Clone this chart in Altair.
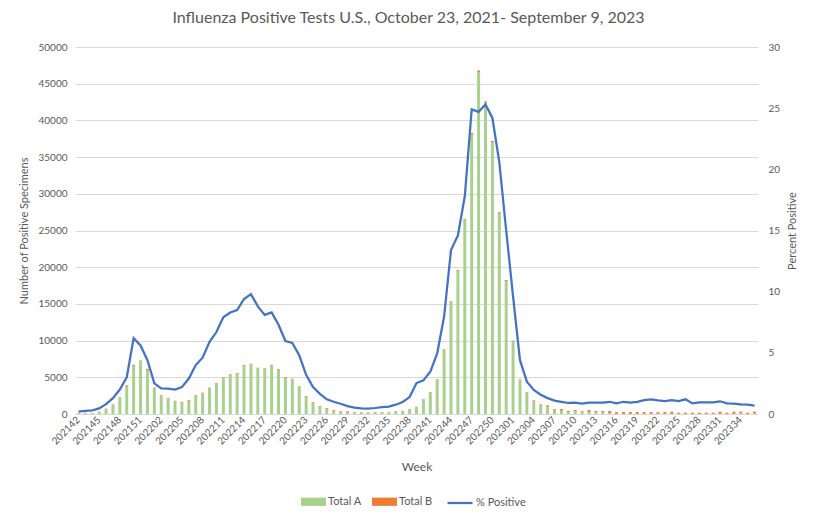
import altair as alt
import pandas as pd

weeks = ([f"2021{w}" for w in range(42, 53)]
         + [f"2022{w:02d}" for w in range(1, 53)]
         + [f"2023{w:02d}" for w in range(1, 37)])

total_a = [60, 90, 70, 290, 680, 1200, 2250, 3750, 6550, 7250,
           6000, 3550, 2550, 2100, 1700, 1550, 1800, 2550, 2800, 3550,
           4100, 4950, 5300, 5450, 6600, 6850, 6250, 6100, 6600, 6000,
           4900, 4700, 3780, 2350, 1500, 1000, 700, 450, 340, 330,
           250, 230, 230, 220, 250, 250, 400, 440, 670, 990,
           2000, 2900, 4650, 8700, 15200, 19450, 26500, 38100, 46600, 42450,
           37050, 27350, 18100, 9900, 4600, 2850, 1700, 1150, 1000, 450,
           450, 270, 400, 220, 270, 230, 230, 140, 40, 20,
           20, 20, 20, 20, 30, 20, 20, 10, 10, 10,
           10, 10, 10, 20, 10, 20, 100, 10, 100]

total_b = [40, 70, 50, 40, 50, 100, 60, 150, 150, 50,
           150, 50, 50, 100, 100, 100, 100, 50, 100, 50,
           100, 50, 100, 100, 100, 30, 50, 100, 100, 100,
           100, 100, 20, 100, 100, 100, 100, 100, 70, 80,
           20, 40, 40, 50, 20, 20, 10, 10, 10, 10,
           50, 80, 80, 100, 150, 150, 100, 200, 200, 150,
           150, 150, 150, 100, 100, 100, 150, 150, 180, 200,
           230, 140, 140, 140, 270, 180, 180, 270, 230, 250,
           250, 250, 250, 250, 220, 250, 300, 170, 170, 170,
           170, 170, 170, 300, 170, 300, 220, 170, 220]

pct_positive = [0.2, 0.25, 0.3, 0.46, 0.8, 1.3, 2.0, 3.0, 6.2, 5.6,
                4.4, 2.5, 2.1, 2.07, 2.0, 2.2, 2.9, 4.0, 4.6, 5.9,
                6.7, 7.9, 8.3, 8.5, 9.4, 9.8, 8.8, 8.1, 8.3, 7.3,
                5.97, 5.8, 4.8, 3.2, 2.2, 1.65, 1.2, 1.0, 0.84, 0.65,
                0.52, 0.46, 0.44, 0.49, 0.57, 0.6, 0.76, 0.98, 1.38, 2.53,
                2.75, 3.45, 4.96, 7.96, 13.4, 14.6, 17.8, 24.9, 24.7, 25.3,
                24.2, 20.6, 15.0, 9.6, 4.4, 2.64, 1.96, 1.58, 1.3, 1.09,
                1.0, 0.9, 0.93, 0.84, 0.93, 0.93, 0.93, 1.0, 0.87, 1.0,
                0.93, 1.0, 1.14, 1.2, 1.12, 1.06, 1.14, 1.06, 1.2, 0.87,
                0.95, 0.95, 0.95, 1.04, 0.87, 0.84, 0.79, 0.76, 0.68]

left_ticks = list(range(0, 50001, 5000))
right_ticks = list(range(0, 31, 5))
shown_weeks = [w for i, w in enumerate(weeks) if i % 3 == 0]

FONT = "Lato"
GRAY = "#595959"
GRID = "#D9D9D9"

n = len(weeks)
bars_df = pd.DataFrame({
    "week": weeks * 2,
    "series": ["Total A"] * n + ["Total B"] * n,
    "value": total_a + total_b,
    "order": [0] * n + [1] * n,
})
line_df = pd.DataFrame({"week": weeks, "pct": pct_positive, "series": ["% Positive"] * n})

x_enc = alt.X(
    "week:N", sort=weeks,
    scale=alt.Scale(paddingInner=0, paddingOuter=0),
    axis=alt.Axis(
        values=shown_weeks, labelAngle=-45, labelAlign="right", labelBaseline="middle",
        labelFont=FONT, labelFontSize=10, labelColor=GRAY, labelPadding=4,
        ticks=False, domainColor=GRID, domainWidth=1, grid=False,
        title="Week", titleFont=FONT, titleFontSize=12, titleFontWeight="normal",
        titleColor=GRAY, titlePadding=15,
    ),
)

bars = alt.Chart(bars_df).mark_bar(size=3).encode(
    x=x_enc,
    y=alt.Y(
        "value:Q", stack="zero",
        scale=alt.Scale(domain=[0, 50000], nice=False),
        axis=alt.Axis(
            values=left_ticks, format="d", grid=True, gridColor=GRID, domain=False, ticks=False,
            labelFont=FONT, labelFontSize=10, labelColor=GRAY, labelPadding=8,
            title="Number of Positive Specimens", titleFont=FONT, titleFontSize=11,
            titleFontWeight="normal", titleColor=GRAY, titlePadding=8,
        ),
    ),
    color=alt.Color(
        "series:N",
        scale=alt.Scale(domain=["Total A", "Total B"], range=["#A9D18E", "#ED7D31"]),
        legend=alt.Legend(
            orient="none", legendX=226, legendY=442, direction="horizontal", title=None,
            symbolType="M-1,-0.33H1V0.33H-1Z", symbolSize=625, symbolStrokeWidth=0,
            labelFont=FONT, labelFontSize=11, labelColor=GRAY, columnPadding=10,
            padding=0, labelOffset=2,
        ),
    ),
    order=alt.Order("order:Q", sort="ascending"),
)

line = alt.Chart(line_df).mark_line(strokeWidth=2.25).encode(
    x=alt.X("week:N", sort=weeks),
    y=alt.Y(
        "pct:Q",
        scale=alt.Scale(domain=[0, 30], nice=False),
        axis=alt.Axis(
            orient="right", values=right_ticks, grid=False, domain=False, ticks=False,
            labelFont=FONT, labelFontSize=10, labelColor=GRAY, labelPadding=10,
            title="Percent Positive", titleFont=FONT, titleFontSize=11,
            titleFontWeight="normal", titleColor=GRAY, titleAngle=-90, titlePadding=18,
        ),
    ),
    stroke=alt.Stroke(
        "series:N",
        scale=alt.Scale(domain=["% Positive"], range=["#4472C4"]),
        legend=alt.Legend(
            orient="none", legendX=371, legendY=442, direction="horizontal", title=None,
            symbolType="stroke", symbolSize=625, symbolStrokeWidth=2.25,
            labelFont=FONT, labelFontSize=11, labelColor=GRAY, padding=0, labelOffset=2,
        ),
    ),
)

chart = alt.layer(bars, line).resolve_scale(y="independent").properties(
    width=683, height=367,
    padding={"left": 75, "top": 47, "right": 58, "bottom": 106},
    autosize=alt.AutoSizeParams(type="none"),
    title=alt.Title(
        "Influenza Positive Tests U.S., October 23, 2021- September 9, 2023",
        font=FONT, fontSize=16, fontWeight="normal", color=GRAY, anchor="middle",
        offset=16, dx=-8,
    ),
    background="white",
).configure_view(stroke=None)

chart.save("out.html", embed_options={"renderer": "svg", "actions": False})
